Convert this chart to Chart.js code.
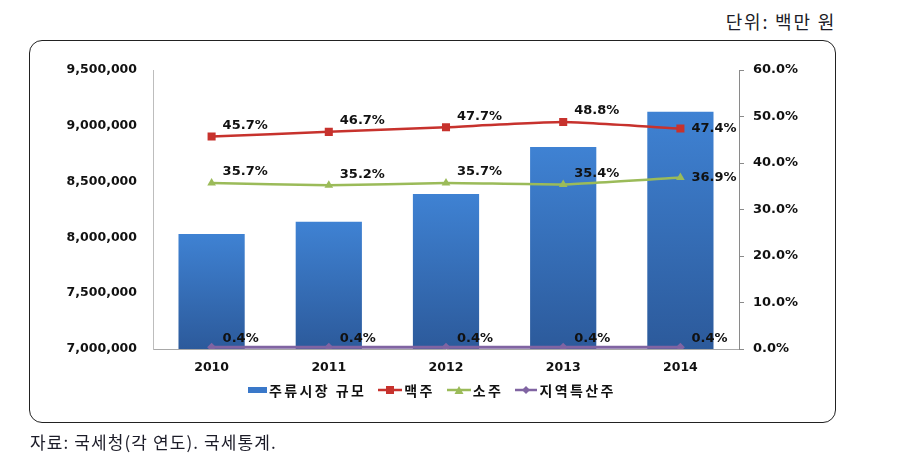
<!DOCTYPE html>
<html>
<head>
<meta charset="utf-8">
<script src="https://cdn.jsdelivr.net/npm/chart.js@4.4.0/dist/chart.umd.min.js"></script>
<style>
  html, body { margin: 0; padding: 0; background: #fff; }
  #wrap { position: relative; width: 898px; height: 468px; overflow: hidden; }
  #frame { position: absolute; left: 29px; top: 39.5px; width: 805px; height: 381px;
           border: 1.6px solid #222; border-radius: 13px; }
  #chartBox { position: absolute; left: 0; top: 0; width: 898px; height: 468px; }
  #unit { position: absolute; right: 62px; top: 10px; font: 400 18px "Noto Sans CJK KR", sans-serif;
          color: #1c1c28; line-height: 22px; white-space: nowrap; letter-spacing: 1.8px; }
  #source { position: absolute; left: 30px; top: 431px; font: 400 17px "Noto Sans CJK KR", sans-serif;
            color: #1c1c28; line-height: 22px; white-space: nowrap; letter-spacing: 1.1px; }
  #legend { position: absolute; left: 248px; top: 381px; height: 18px; display: flex; align-items: center;
            font: 700 14px "Noto Sans CJK KR", sans-serif; color: #111; white-space: nowrap; letter-spacing: 2.4px; }
  .item { display: flex; align-items: center; margin-right: 12px; }
  .item svg { margin-right: 2px; }
</style>
</head>
<body>
<div id="wrap">
  <div id="unit">단위: 백만 원</div>
  <div id="frame"></div>
  <div id="chartBox"><canvas id="c" width="898" height="468"></canvas></div>
  <div id="legend"></div>
  <div id="source">자료: 국세청(각 연도). 국세통계.</div>
</div>
<script>
// ---- data ----
const years = ['2010', '2011', '2012', '2013', '2014'];
const marketSize = [8030000, 8140000, 8390000, 8810000, 9125000];
const beerShare = [45.7, 46.7, 47.7, 48.8, 47.4];
const sojuShare = [35.7, 35.2, 35.7, 35.4, 36.9];
const localShare = [0.4, 0.4, 0.4, 0.4, 0.4];
const seriesNames = ['주류시장 규모', '맥주', '소주', '지역특산주'];
const leftTickValues = [7000000, 7500000, 8000000, 8500000, 9000000, 9500000];
const rightTickValues = [0, 10, 20, 30, 40, 50, 60];

const colors = { bar: '#3a78c9', beer: '#c7322d', soju: '#9bbb59', local: '#8064a2' };

// ---- legend (HTML) ----
const legendEl = document.getElementById('legend');
const legendMarkers = [
  '<svg width="19" height="8"><rect x="0" y="1" width="19" height="6" fill="#3a78c9"/></svg>',
  '<svg width="24" height="10"><line x1="0" y1="5" x2="24" y2="5" stroke="#c7322d" stroke-width="2.5"/><rect x="8" y="1" width="8" height="8" fill="#c7322d"/></svg>',
  '<svg width="24" height="10"><line x1="0" y1="5" x2="24" y2="5" stroke="#9bbb59" stroke-width="2.5"/><polygon points="12,1 16.5,9 7.5,9" fill="#9bbb59"/></svg>',
  '<svg width="22" height="10"><line x1="0" y1="5" x2="22" y2="5" stroke="#8064a2" stroke-width="2.5"/><polygon points="11,1 15,5 11,9 7,5" fill="#8064a2"/></svg>'
];
seriesNames.forEach((n, i) => {
  const d = document.createElement('div');
  d.className = 'item';
  d.innerHTML = legendMarkers[i] + '<span>' + n + '</span>';
  legendEl.appendChild(d);
});

// ---- gradient for bars ----
function barFill(ctx) {
  const chart = ctx.chart;
  const area = chart.chartArea;
  const ys = chart.scales && chart.scales.y;
  if (!area || !ys || ctx.dataIndex === undefined) return colors.bar;
  const top = ys.getPixelForValue(marketSize[ctx.dataIndex]);
  const g = chart.ctx.createLinearGradient(0, top, 0, area.bottom);
  g.addColorStop(0, '#3f82d3');
  g.addColorStop(1, '#2c5a9b');
  return g;
}

// ---- data label plugin ----
const labelPlugin = {
  id: 'pctLabels',
  afterDatasetsDraw(chart) {
    const c = chart.ctx;
    c.save();
    c.font = 'bold 13px "DejaVu Sans", sans-serif';
    c.fillStyle = '#111';
    c.textAlign = 'left';
    c.textBaseline = 'middle';
    [1, 2, 3].forEach(di => {
      const meta = chart.getDatasetMeta(di);
      const vals = chart.data.datasets[di].data;
      meta.data.forEach((pt, i) => {
        const last = i === vals.length - 1;
        let dy = last ? 0 : -11;
        if (di === 3) dy = -9;
        c.fillText(vals[i].toFixed(1) + '%', pt.x + 11, pt.y + dy);
      });
    });
    c.restore();
  }
};

const tickFont = { family: '"DejaVu Sans", sans-serif', weight: 'bold', size: 12.5 };

new Chart(document.getElementById('c'), {
  type: 'bar',
  data: {
    labels: years,
    datasets: [
      { type: 'bar', label: seriesNames[0], data: marketSize, yAxisID: 'y', order: 1,
        backgroundColor: barFill, borderWidth: 0, barPercentage: 0.565, categoryPercentage: 1 },
      { type: 'line', label: seriesNames[1], data: beerShare, yAxisID: 'y1', order: 0,
        borderColor: colors.beer, backgroundColor: colors.beer, borderWidth: 2.5, tension: 0.15,
        pointStyle: 'rect', pointRadius: 5.7, pointBorderWidth: 0 },
      { type: 'line', label: seriesNames[2], data: sojuShare, yAxisID: 'y1', order: 0,
        borderColor: colors.soju, backgroundColor: colors.soju, borderWidth: 2.5, tension: 0.15,
        pointStyle: 'triangle', pointRadius: 5, pointBorderWidth: 0 },
      { type: 'line', label: seriesNames[3], data: localShare, yAxisID: 'y1', order: 0,
        borderColor: colors.local, backgroundColor: colors.local, borderWidth: 3, tension: 0.15,
        pointStyle: 'rectRot', pointRadius: 4.5, pointBorderWidth: 0 }
    ]
  },
  options: {
    responsive: false,
    animation: false,
    devicePixelRatio: 1,
    layout: { padding: { top: 70, left: 0, right: 0, bottom: 89 } },
    plugins: { legend: { display: false }, tooltip: { enabled: false } },
    scales: {
      x: {
        offset: true,
        grid: { display: false, drawTicks: false },
        border: { display: true, color: '#a8a8a8', width: 1 },
        ticks: { font: tickFont, color: '#111', padding: 11 },
        afterFit(s) { s.height = 30; }
      },
      y: {
        position: 'left',
        min: leftTickValues[0], max: leftTickValues[leftTickValues.length - 1],
        afterBuildTicks(s) { s.ticks = leftTickValues.map(v => ({ value: v })); },
        grid: { display: false, drawTicks: false },
        border: { display: true, color: '#bdbdbd', width: 1 },
        ticks: { font: tickFont, color: '#111', padding: 16,
                 callback: v => Number(v).toLocaleString('en-US') },
        afterFit(s) { s.width = 153; }
      },
      y1: {
        position: 'right',
        min: rightTickValues[0], max: rightTickValues[rightTickValues.length - 1],
        afterBuildTicks(s) { s.ticks = rightTickValues.map(v => ({ value: v })); },
        grid: { display: true, drawOnChartArea: false, drawTicks: true, tickLength: 5, color: '#8a8a8a' },
        border: { display: true, color: '#8a8a8a', width: 1 },
        ticks: { font: { family: '"DejaVu Sans", sans-serif', weight: 'bold', size: 13 }, color: '#111', padding: 9,
                 callback: v => Number(v).toFixed(1) + '%' },
        afterFit(s) { s.width = 159; }
      }
    }
  },
  plugins: [labelPlugin]
});
</script>
</body>
</html>
